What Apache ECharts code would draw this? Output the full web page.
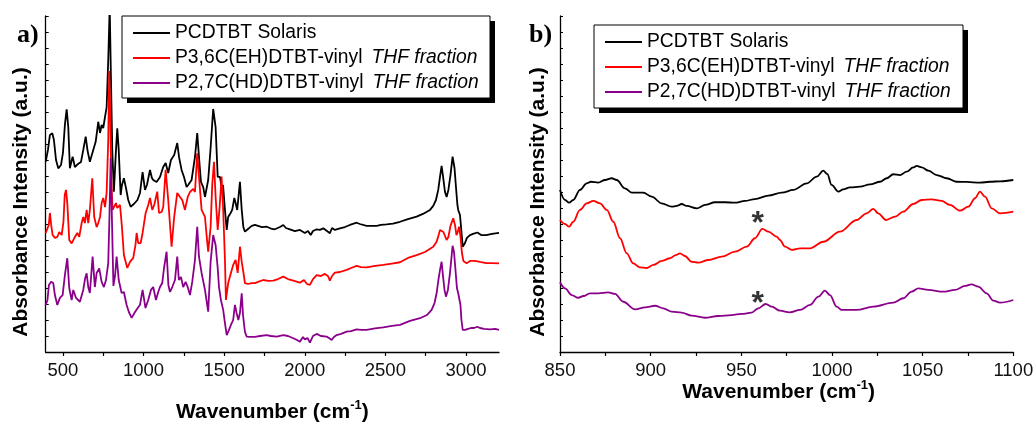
<!DOCTYPE html>
<html><head><meta charset="utf-8">
<script src="https://cdn.jsdelivr.net/npm/echarts@6/dist/echarts.min.js"></script>
<style>html,body{margin:0;padding:0;background:#fff}#c{width:1035px;height:423px}</style>
</head><body><div id="c"></div>
<script>
// ---------- DATA ----------
var seriesNames = ['PCDTBT Solaris', 'P3,6C(EH)DTBT-vinyl THF fraction', 'P2,7C(HD)DTBT-vinyl THF fraction'];
var panelLabels = ['a)', 'b)'];
var xTicksA = [500, 750, 1000, 1250, 1500, 1750, 2000, 2250, 2500, 2750, 3000];
var xLabelsA = [500, 1000, 1500, 2000, 2500, 3000];
var xTicksB = [850, 875, 900, 925, 950, 975, 1000, 1025, 1050, 1075, 1100];
var xLabelsB = [850, 900, 950, 1000, 1050, 1100];

// Panel a) full spectra  [wavenumber, absorbance (a.u., offset)]
var blackA = [[393,11.89],[407,12.63],[419,13.56],[434,13.67],[444,13.25],[457,12.0],[471,11.48],[488,11.69],[500,12.44],[512,14.19],[523,15.17],[533,14.06],[543,11.48],[560,12.21],[574,11.56],[593,11.75],[612,11.88],[626,12.63],[641,13.46],[653,12.56],[667,11.89],[688,12.63],[703,13.14],[719,14.39],[730,13.69],[740,14.19],[750,14.0],[761,14.69],[771,15.31],[781,18.25],[790,21.6],[798,17.0],[806,12.6],[816,10.02],[829,12.63],[837,13.98],[846,12.63],[858,9.81],[866,10.44],[878,10.86],[891,10.25],[905,9.5],[920,9.08],[940,9.25],[962,9.5],[978,9.94],[994,11.25],[1009,10.13],[1021,10.44],[1040,11.38],[1052,10.88],[1060,10.75],[1081,10.63],[1102,10.94],[1122,11.56],[1137,11.81],[1153,11.19],[1170,12.0],[1190,12.31],[1209,13.06],[1221,12.13],[1236,11.38],[1251,10.94],[1267,10.31],[1277,10.44],[1298,10.75],[1319,12.19],[1333,13.69],[1344,12.19],[1356,10.63],[1370,10.31],[1381,9.69],[1401,10.75],[1416,12.75],[1432,15.19],[1447,14.06],[1460,10.94],[1474,10.94],[1484,10.31],[1493,10.44],[1505,8.88],[1516,7.63],[1525,8.44],[1540,8.69],[1550,8.88],[1563,9.63],[1571,9.31],[1581,8.88],[1598,10.64],[1609,8.88],[1619,7.81],[1629,7.52],[1648,7.69],[1671,7.88],[1691,7.94],[1702,7.94],[1734,7.81],[1764,7.83],[1797,7.69],[1815,7.67],[1846,7.81],[1867,7.94],[1883,7.75],[1908,7.67],[1939,7.56],[1970,7.63],[2001,7.44],[2020,7.56],[2037,7.31],[2051,7.56],[2074,7.67],[2094,7.63],[2115,7.73],[2138,7.56],[2156,7.42],[2169,7.75],[2187,7.63],[2218,7.73],[2249,7.81],[2280,7.94],[2322,8.08],[2342,8.0],[2384,7.88],[2411,7.88],[2446,7.88],[2473,7.94],[2508,7.98],[2547,8.03],[2591,8.14],[2640,8.31],[2694,8.46],[2733,8.63],[2777,8.88],[2797,9.13],[2814,9.5],[2828,10.13],[2839,10.94],[2849,11.64],[2859,10.88],[2870,10.0],[2880,9.69],[2891,10.13],[2904,11.06],[2917,12.21],[2929,11.5],[2938,10.31],[2947,9.19],[2952,8.88],[2963,8.56],[2971,7.63],[2980,6.58],[2994,6.81],[3006,7.13],[3025,7.31],[3044,7.38],[3071,7.47],[3094,7.31],[3125,7.31],[3162,7.38],[3205,7.44]];

var redA = [[393,7.44],[404,7.5],[412,7.94],[419,8.69],[427,7.94],[436,7.31],[450,7.13],[465,7.19],[477,7.5],[492,7.31],[503,8.13],[511,9.81],[519,10.13],[527,9.31],[539,7.0],[554,6.79],[574,7.19],[589,7.44],[601,7.19],[616,8.06],[626,8.44],[636,8.06],[647,8.88],[657,8.06],[667,8.88],[682,10.86],[694,8.44],[709,7.81],[719,8.06],[730,8.44],[740,9.31],[750,9.63],[761,9.06],[771,9.94],[781,13.25],[787,17.56],[793,15.13],[800,10.75],[808,8.88],[816,9.0],[829,9.31],[837,9.0],[854,9.19],[866,7.81],[878,6.06],[899,5.25],[916,5.63],[936,5.88],[950,6.69],[957,7.44],[967,6.81],[982,6.81],[994,7.44],[1013,8.69],[1029,9.19],[1040,9.63],[1054,8.88],[1066,9.19],[1085,10.02],[1096,8.69],[1112,8.75],[1122,9.06],[1137,11.38],[1153,9.5],[1174,6.58],[1190,8.44],[1209,9.94],[1226,9.69],[1240,9.5],[1257,8.88],[1274,9.69],[1288,10.0],[1308,10.19],[1319,10.0],[1333,12.42],[1344,10.94],[1360,8.88],[1381,8.44],[1392,7.19],[1401,6.27],[1416,7.81],[1426,10.44],[1437,11.89],[1447,9.69],[1460,7.63],[1472,9.06],[1484,10.96],[1494,8.88],[1505,5.75],[1511,3.25],[1525,4.31],[1542,4.94],[1556,5.44],[1571,5.75],[1584,4.94],[1598,6.58],[1609,5.63],[1619,5.0],[1629,4.31],[1648,4.25],[1671,4.31],[1691,4.31],[1710,4.38],[1743,4.5],[1772,4.44],[1805,4.46],[1834,4.56],[1867,4.71],[1896,4.56],[1929,4.46],[1970,4.33],[1995,4.5],[2014,4.25],[2032,4.19],[2051,4.56],[2074,4.81],[2100,4.75],[2125,4.88],[2144,4.75],[2156,4.46],[2169,4.75],[2187,4.96],[2218,5.0],[2260,5.13],[2287,5.25],[2322,5.38],[2349,5.31],[2384,5.29],[2436,5.38],[2487,5.44],[2541,5.53],[2591,5.61],[2640,5.88],[2694,6.06],[2746,6.25],[2797,6.58],[2817,6.88],[2828,7.21],[2839,7.63],[2851,7.73],[2860,7.5],[2870,7.25],[2880,7.0],[2891,7.19],[2904,7.88],[2921,8.36],[2932,7.94],[2941,7.31],[2947,7.44],[2958,7.83],[2967,7.13],[2975,6.19],[2984,5.69],[3004,5.54],[3025,5.69],[3056,5.69],[3087,5.63],[3125,5.56],[3162,5.56],[3205,5.54]];

var purpleA = [[393,2.94],[404,3.25],[413,4.19],[427,4.39],[440,4.31],[450,3.56],[465,2.94],[481,3.38],[498,3.56],[512,4.81],[527,5.86],[539,4.0],[554,3.25],[564,3.88],[581,3.38],[605,3.14],[626,3.88],[638,4.63],[647,4.92],[657,4.06],[667,3.69],[684,5.96],[698,4.06],[709,4.94],[725,5.23],[740,4.38],[754,4.06],[767,4.5],[781,5.56],[788,8.25],[796,12.11],[804,8.25],[813,4.13],[823,4.75],[833,5.96],[846,4.5],[864,3.69],[878,3.75],[895,2.94],[909,2.5],[926,2.13],[947,2.5],[968,2.81],[978,2.94],[994,3.88],[1012,2.75],[1029,3.25],[1046,3.88],[1060,4.06],[1077,3.25],[1091,3.75],[1102,4.06],[1116,4.31],[1127,5.25],[1143,6.27],[1154,4.19],[1164,3.75],[1178,4.06],[1195,4.5],[1209,5.96],[1219,4.5],[1232,4.69],[1246,4.06],[1261,4.38],[1274,4.06],[1288,3.56],[1302,4.38],[1319,5.75],[1333,7.83],[1344,5.94],[1360,4.94],[1381,3.88],[1401,2.52],[1416,5.63],[1432,7.31],[1447,6.69],[1460,5.25],[1468,4.06],[1480,3.25],[1494,2.63],[1505,1.81],[1516,1.06],[1530,1.38],[1542,1.69],[1556,2.0],[1567,2.94],[1577,2.44],[1588,2.0],[1598,2.44],[1609,3.67],[1617,2.31],[1629,1.25],[1640,0.96],[1666,0.94],[1691,0.94],[1722,1.0],[1764,1.06],[1790,1.0],[1826,0.96],[1867,1.06],[1896,1.0],[1929,0.86],[1952,0.75],[1970,0.64],[1989,0.94],[2001,0.79],[2017,0.88],[2032,0.58],[2051,1.0],[2074,1.13],[2100,1.0],[2136,0.96],[2150,0.88],[2167,0.75],[2181,0.94],[2198,1.06],[2225,1.13],[2260,1.27],[2287,1.31],[2322,1.42],[2349,1.38],[2384,1.38],[2436,1.47],[2487,1.54],[2541,1.63],[2591,1.69],[2653,1.94],[2715,2.11],[2758,2.31],[2787,2.63],[2805,3.06],[2818,3.67],[2829,4.5],[2839,5.13],[2849,5.64],[2857,4.81],[2867,3.88],[2876,3.46],[2888,3.88],[2901,4.94],[2910,5.88],[2917,6.64],[2926,6.25],[2935,5.13],[2944,4.0],[2952,3.67],[2960,3.56],[2966,2.94],[2972,2.0],[2980,1.38],[2994,1.38],[3013,1.44],[3032,1.5],[3050,1.5],[3071,1.58],[3087,1.5],[3112,1.44],[3150,1.42],[3181,1.44],[3205,1.38]];

// Panel b) zoom 850-1100 cm-1
var blackB = [[850,10.13],[852.8,9.5],[855,9.33],[857.3,9.5],[861,10.13],[864.7,10.54],[867.1,10.64],[871.1,10.58],[874.8,10.75],[878.5,10.86],[881.3,10.75],[885.8,10.23],[889.5,9.96],[895.9,9.96],[900.6,9.71],[906.1,9.29],[911.6,9.08],[914.4,9.13],[917.1,9.25],[919.9,9.13],[925.4,8.98],[930,9.19],[935.5,9.36],[941,9.36],[946.5,9.33],[952,9.44],[957.5,9.56],[964.9,9.77],[972.3,9.96],[978.7,10.13],[986.1,10.54],[991.6,10.96],[995.2,11.33],[997.4,11.13],[999.8,10.44],[1003.5,10.02],[1006.2,10.17],[1009.9,10.29],[1015.5,10.33],[1021,10.48],[1026.5,10.64],[1030.2,10.86],[1033.8,11.11],[1037.5,11.06],[1041.2,11.27],[1044.8,11.54],[1046.7,11.63],[1049.5,11.54],[1053.1,11.33],[1057.8,11.06],[1063.3,10.86],[1068.8,10.64],[1074.3,10.63],[1081.6,10.58],[1087.1,10.64],[1092.7,10.67],[1100,10.75]];

var redB = [[850,8.25],[852.8,8.0],[855,7.83],[857.3,8.14],[861,8.88],[864.7,9.29],[868.4,9.44],[872.1,9.29],[875.8,8.88],[879.4,8.14],[883.1,7.11],[886.8,6.17],[890.4,5.54],[894.1,5.29],[897.8,5.25],[901.5,5.44],[906.1,5.69],[910.7,5.86],[913.8,6.06],[916.2,6.17],[918.9,6.0],[922.6,5.64],[926.3,5.58],[931.8,5.75],[939.2,5.96],[946.5,6.27],[953,6.58],[957.5,7.11],[961.6,7.69],[964.9,7.52],[969.5,7.21],[971.3,7.0],[974.1,6.58],[977.8,6.38],[982.4,6.48],[987.9,6.48],[995.2,6.89],[1004.4,7.52],[1013.6,8.25],[1019.1,8.67],[1022.8,8.94],[1025.5,8.67],[1029.8,8.25],[1034.8,8.46],[1039.3,8.77],[1044.8,9.25],[1049.5,9.5],[1055,9.54],[1060.5,9.44],[1065.1,9.19],[1070.6,8.83],[1075.2,9.08],[1078.9,9.61],[1081.6,10.02],[1084.4,9.71],[1088.1,8.98],[1092.7,8.67],[1100,8.77]];

var purpleB = [[850,4.36],[852.8,3.98],[856.5,3.56],[860.1,3.39],[862.9,3.5],[866.5,3.67],[871.1,3.67],[876.6,3.73],[880.3,3.63],[884.9,3.14],[891.4,2.67],[896.9,2.79],[902.4,2.89],[907,2.73],[911.6,2.52],[917.1,2.46],[922.6,2.27],[930,2.14],[937.3,2.25],[944.7,2.31],[950.2,2.38],[955.7,2.46],[959.4,2.73],[963.4,3.0],[966.8,2.83],[971.3,2.58],[976.8,2.48],[982.4,2.63],[987.9,2.94],[992.5,3.46],[996.1,3.83],[998.9,3.56],[1002.6,2.83],[1005.4,2.63],[1013.6,2.63],[1022.8,2.83],[1033.8,3.08],[1039.3,3.36],[1043.9,3.77],[1047.6,3.98],[1053.1,3.88],[1061.4,3.77],[1067.8,3.88],[1073.4,4.13],[1077,4.23],[1080.7,4.08],[1085.3,3.67],[1089,3.21],[1092.7,3.08],[1100,3.25]];

// asterisk annotations in panel b)
var starMarks = [[959, 8.36], [959, 3.39]];

// ---------- CHART ----------
var colors = ['#000000', '#ff0000', '#8b008b'];
var FONT = 'Liberation Sans, Arial, sans-serif';
var chart = echarts.init(document.getElementById('c'), null, {renderer: 'canvas'});

function legendFmt(name) {
  var i = name.indexOf(' THF');
  if (i < 0) return '{n|' + name + '}';
  return '{n|' + name.slice(0, i) + '}{i|' + name.slice(i + 1) + '}';
}
var LFS = 19.3;
function makeLegend(left, top) {
  return {
    data: seriesNames, orient: 'vertical', left: left, top: top, z: 5,
    padding: [6, 10, 5, 11], itemGap: 3, itemWidth: 37, itemHeight: 2, icon: 'rect',
    selectedMode: false, formatter: legendFmt,
    textStyle: {
      fontFamily: FONT, fontSize: LFS, color: '#000', lineHeight: 22,
      rich: {
        n: {fontFamily: FONT, fontSize: LFS, color: '#000', lineHeight: 22},
        i: {fontFamily: FONT, fontSize: LFS, color: '#000', fontStyle: 'italic', lineHeight: 22, padding: [0, 0, 0, 9]}
      }
    }
  };
}
function legendBox(x, y, w, h) {
  return [
    {type: 'rect', z: 1, silent: true, shape: {x: x + 5, y: y + 5, width: w, height: h}, style: {fill: '#000'}},
    {type: 'rect', z: 2, silent: true, shape: {x: x, y: y, width: w, height: h}, style: {fill: '#fff', stroke: '#000', lineWidth: 1}}
  ];
}
function makeX(idx, min, max, ticks, labels, gap, namePad) {
  return {
    type: 'value', gridIndex: idx, min: min, max: max,
    name: '{a|Wavenumber (cm}{s|-1}{a|)}', nameLocation: 'middle', nameGap: gap, nameMoveOverlap: false,
    nameTextStyle: {
      padding: namePad,
      rich: {
        a: {fontFamily: FONT, fontWeight: 'bold', fontSize: 21, color: '#000'},
        s: {fontFamily: FONT, fontWeight: 'bold', fontSize: 13, color: '#000', padding: [0, 0, 13, 0]}
      }
    },
    axisLine: {show: true, onZero: false, lineStyle: {color: '#000', width: 1.3}},
    axisTick: {show: true, inside: false, length: 4, customValues: ticks, lineStyle: {color: '#000', width: 1.2}},
    axisLabel: {show: true, customValues: labels, margin: 9, fontFamily: FONT, fontSize: 18.5, color: '#111',
      formatter: function (v) { return String(v); }},
    splitLine: {show: false}
  };
}
function makeY(idx, gap) {
  return {
    type: 'value', gridIndex: idx, min: 0, max: 21, interval: 1,
    name: 'Absorbance Intensity (a.u.)', nameLocation: 'middle', nameGap: gap, nameMoveOverlap: false,
    nameTextStyle: {fontFamily: FONT, fontWeight: 'bold', fontSize: 21, color: '#000', padding: [0, 36, 0, 0]},
    axisLine: {show: true, onZero: false, lineStyle: {color: '#000', width: 1.3}},
    axisTick: {show: true, inside: true, length: 3, lineStyle: {color: '#000', width: 1}},
    axisLabel: {show: false},
    splitLine: {show: false}
  };
}
function line(name, data, idx, color, smooth) {
  return {
    name: name, type: 'line', xAxisIndex: idx, yAxisIndex: idx, data: data,
    symbol: 'none', showSymbol: false, clip: true, animation: false,
    smooth: smooth ? 0.35 : false, smoothMonotone: smooth ? 'x' : undefined,
    lineStyle: {color: color, width: 1.8}, itemStyle: {color: color}
  };
}

var option = {
  animation: false,
  backgroundColor: '#fff',
  title: [
    {text: panelLabels[0], left: 12, top: 17, textStyle: {fontFamily: 'Liberation Serif, DejaVu Serif, serif', fontWeight: 'bold', fontSize: 26, color: '#000'}},
    {text: panelLabels[1], left: 524, top: 17, textStyle: {fontFamily: 'Liberation Serif, DejaVu Serif, serif', fontWeight: 'bold', fontSize: 26, color: '#000'}}
  ],
  graphic: legendBox(122, 16, 368, 82).concat(legendBox(594, 25, 369, 83)),
  legend: [makeLegend(122, 16), makeLegend(594, 25)],
  grid: [
    {left: 45.7, right: 536, top: 16, bottom: 71, containLabel: false, outerBoundsMode: 'none'},
    {left: 560, right: 21.7, top: 16, bottom: 71, containLabel: false, outerBoundsMode: 'none'}
  ],
  xAxis: [makeX(0, 393, 3205, xTicksA, xLabelsA, 47, [0, 0, 0, 0]), makeX(1, 850, 1100, xTicksB, xLabelsB, 27, [0, 16, 0, 0])],
  yAxis: [makeY(0, 14), makeY(1, 11)],
  series: [
    line(seriesNames[0], blackA, 0, colors[0], false),
    line(seriesNames[1], redA, 0, colors[1], false),
    line(seriesNames[2], purpleA, 0, colors[2], false),
    line(seriesNames[0], blackB, 1, colors[0], true),
    line(seriesNames[1], redB, 1, colors[1], true),
    line(seriesNames[2], purpleB, 1, colors[2], true),
    {
      type: 'scatter', xAxisIndex: 1, yAxisIndex: 1, data: starMarks,
      symbolSize: 1, itemStyle: {color: 'rgba(0,0,0,0)'}, silent: true,
      label: {show: true, position: 'inside', formatter: '*', offset: [0, 6],
        fontFamily: FONT, fontWeight: 'bold', fontSize: 32, color: '#000'}
    }
  ]
};
chart.setOption(option);
</script></body></html>
